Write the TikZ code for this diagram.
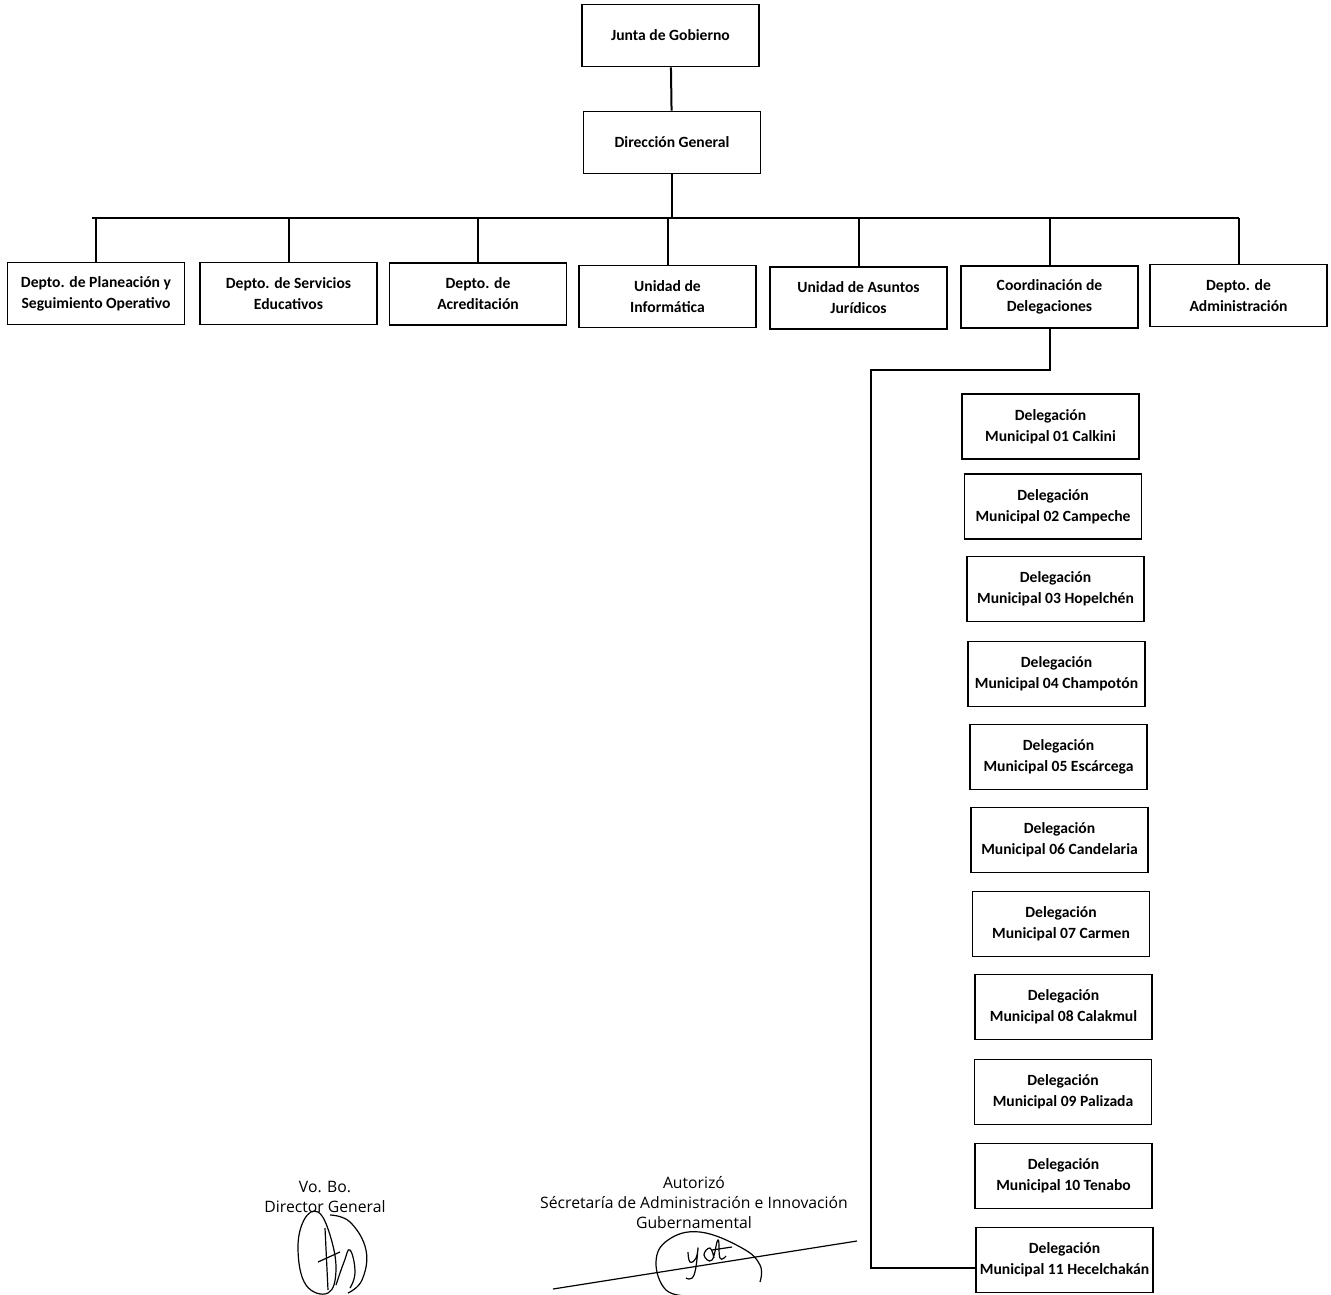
\documentclass[tikz,border=0pt]{standalone}
\usepackage{fontspec}
\setmainfont{Carlito}
\newfontfamily\firmafont{Open Sans}
\usepackage{tikz}

\begin{document}
\begin{tikzpicture}[x=0.75pt, y=-0.75pt,
        caja/.style={draw=black, line width=1.3pt, fill=white, align=center,
            font=\fontsize{11.7}{15.8}\selectfont\bfseries,
            minimum width=132.75pt, minimum height=46.5pt, inner sep=0pt},
        deleg/.style={caja, minimum height=48.75pt},
        linea/.style={black, line width=1.5pt},
        firma/.style={align=center, font=\firmafont\fontsize{11.8}{15}\selectfont, inner sep=0pt},
        trazo/.style={black, line width=0.9pt}]
            \useasboundingbox (0,0) rectangle (1331,1295);

            % Mando superior
            \node[caja] (junta) at (670.5, 35.5) {Junta de Gobierno};
            \node[caja] (dir) at (672, 142.5) {Dirección General};

            % Departamentos y unidades
            \node[caja] (plan) at (96, 293.5) {Depto. de Planeación y\\Seguimiento Operativo};
            \node[caja] (serv) at (288.5, 293.5) {Depto. de Servicios\\Educativos};
            \node[caja] (acred) at (478, 294) {Depto. de\\Acreditación};
            \node[caja] (info) at (667.5, 296.5) {Unidad de\\Informática};
            \node[caja] (jur) at (858.5, 298) {Unidad de Asuntos\\Jurídicos};
            \node[caja] (coord) at (1049.5, 297) {Coordinación de\\Delegaciones};
            \node[caja] (admin) at (1238.5, 295.5) {Depto. de\\Administración};

            % Delegaciones municipales
            \node[deleg] (del01) at (1050.5, 426.5) {Delegación\\Municipal 01 Calkini};
            \node[deleg] (del02) at (1053, 506.5) {Delegación\\Municipal 02 Campeche};
            \node[deleg] (del03) at (1055.5, 589) {Delegación\\Municipal 03 Hopelchén};
            \node[deleg] (del04) at (1056.5, 674) {Delegación\\Municipal 04 Champotón};
            \node[deleg] (del05) at (1058.5, 757) {Delegación\\Municipal 05 Escárcega};
            \node[deleg] (del06) at (1059.5, 840) {Delegación\\Municipal 06 Candelaria};
            \node[deleg] (del07) at (1061, 924) {Delegación\\Municipal 07 Carmen};
            \node[deleg] (del08) at (1063.5, 1007) {Delegación\\Municipal 08 Calakmul};
            \node[deleg] (del09) at (1063, 1092) {Delegación\\Municipal 09 Palizada};
            \node[deleg] (del10) at (1063.5, 1176) {Delegación\\Municipal 10 Tenabo};
            \node[deleg] (del11) at (1064.5, 1260) {Delegación\\Municipal 11 Hecelchakán};

            % Líneas de mando
            \coordinate (busL) at (92, 218);
            \coordinate (busR) at (1238.5, 218);
            \draw[linea] (junta) -- (dir);
            \draw[linea] (dir.south) -- (dir.south |- busL);
            \draw[linea] (busL) -- (busR);
            \draw[linea] (plan.north) -- (plan.north |- busL);
            \draw[linea] (serv.north) -- (serv.north |- busL);
            \draw[linea] (acred.north) -- (acred.north |- busL);
            \draw[linea] (info.north) -- (info.north |- busL);
            \draw[linea] (jur.north) -- (jur.north |- busL);
            \draw[linea] (coord.north) -- (coord.north |- busL);
            \draw[linea] (admin.north) -- (admin.north |- busL);

            % Coordinación -> delegación 11
            \coordinate (codo1) at (871, 370);
            \coordinate (codo2) at (871, 1268);
            \draw[linea] (coord.south) |- (codo1) -- (codo2) -- (del11.west |- codo2);

            % Firmas
            \node[firma] (vobo) at (325, 1197) {Vo. Bo.\\Director General};
            \node[firma] (autorizo) at (694, 1203) {Autorizó\\Sécretaría de Administración e Innovación\\Gubernamental};

            % Rubrica izquierda
            \draw[trazo] plot[smooth cycle, tension=0.7] coordinates
                {(318,1212) (330,1235) (336,1270) (328,1293) (306,1285) (298,1250) (304,1220)};
            \draw[trazo] plot[smooth, tension=0.7] coordinates
                {(330,1215) (350,1222) (366,1250) (362,1280) (348,1293)};
            \draw[trazo] (325,1228) -- (328,1290);
            \draw[trazo] (318,1262) -- (340,1252);
            \draw[trazo] plot[smooth, tension=0.8] coordinates
                {(336,1285) (344,1262) (350,1250) (355,1272) (350,1288)};

            % Rubrica derecha
            \draw[trazo] (553,1289) -- (857,1241);
            \draw[trazo] plot[smooth, tension=0.7] coordinates
                {(760,1282) (760,1265) (742,1248) (700,1232) (668,1240) (656,1262) (666,1290) (690,1296)};
            \draw[trazo] plot[smooth, tension=0.8] coordinates
                {(688,1252) (690,1262) (696,1258) (698,1248) (694,1275) (686,1278)};
            \draw[trazo] plot[smooth, tension=0.8] coordinates
                {(714,1258) (710,1248) (704,1255) (712,1260) (718,1240) (720,1258) (726,1256)};
            \draw[trazo] (712,1250) -- (732,1247);
\end{tikzpicture}
\end{document}
